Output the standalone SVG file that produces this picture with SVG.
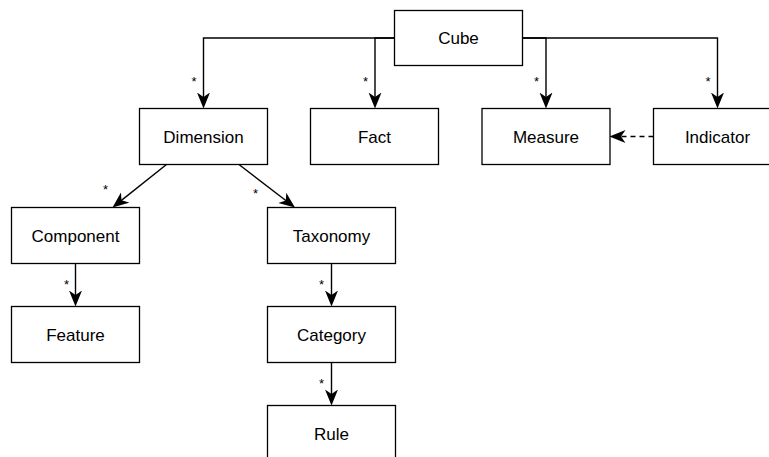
<svg xmlns="http://www.w3.org/2000/svg" width="769" height="457" viewBox="0 0 769 457">
  <style>
    .box { fill: #ffffff; stroke: #000000; stroke-width: 1.3; }
    .lbl { font-family: "Liberation Sans", Arial, sans-serif; font-size: 17px; fill: #000000; text-anchor: middle; }
    .edge { fill: none; stroke: #000000; stroke-width: 1.4; marker-end: url(#arr); }
    .dash { stroke-dasharray: 5 4; }
    .star { font-family: "Liberation Sans", Arial, sans-serif; font-size: 13px; fill: #000000; text-anchor: middle; }
  </style>
  <defs>
    <marker id="arr" viewBox="0 0 16 14" markerWidth="16" markerHeight="14" refX="11" refY="7" orient="auto" markerUnits="userSpaceOnUse">
      <path d="M0,0.5 L16,7 L0,13.5 L4.5,7 Z" fill="#000000" stroke="none"/>
    </marker>
  </defs>
  <rect width="769" height="457" fill="#ffffff"/>

  <g id="connectors">
    <path class="edge" d="M394.5,38 H203.5 V103.5"/>
    <path class="edge" d="M394.5,38 H375 V103.5"/>
    <path class="edge" d="M522.5,38 H546 V103.5"/>
    <path class="edge" d="M522.5,38 H717.5 V103.5"/>
    <path class="edge dash" d="M653.5,136.5 H614.5"/>
    <path class="edge" d="M166.5,164.5 L116.4,204.4"/>
    <path class="edge" d="M239,164.5 L291,204.5"/>
    <path class="edge" d="M75.5,263.5 V301.5"/>
    <path class="edge" d="M331.5,263.5 V301.5"/>
    <path class="edge" d="M331.5,362.5 V400.5"/>
    <text class="star" x="194" y="85.5">*</text>
    <text class="star" x="365.5" y="85.5">*</text>
    <text class="star" x="536.5" y="85.5">*</text>
    <text class="star" x="708" y="85.5">*</text>
    <text class="star" x="105.5" y="194">*</text>
    <text class="star" x="255.5" y="197.5">*</text>
    <text class="star" x="66.5" y="289">*</text>
    <text class="star" x="321.5" y="289">*</text>
    <text class="star" x="321.5" y="387.5">*</text>
  </g>

  <g id="cube"><rect class="box" x="394.5" y="10.5" width="128" height="55"/><text class="lbl" x="458.5" y="44">Cube</text></g>
  <g id="dimension"><rect class="box" x="139.5" y="108.5" width="128" height="56"/><text class="lbl" x="203.5" y="142.5">Dimension</text></g>
  <g id="fact"><rect class="box" x="310.5" y="108.5" width="128" height="56"/><text class="lbl" x="374.5" y="142.5">Fact</text></g>
  <g id="measure"><rect class="box" x="482" y="108.5" width="128" height="56"/><text class="lbl" x="546" y="142.5">Measure</text></g>
  <g id="indicator"><rect class="box" x="653.5" y="108.5" width="128" height="56"/><text class="lbl" x="717.5" y="142.5">Indicator</text></g>
  <g id="component"><rect class="box" x="11.5" y="207.5" width="128" height="56"/><text class="lbl" x="75.5" y="241.5">Component</text></g>
  <g id="taxonomy"><rect class="box" x="267.5" y="207.5" width="128" height="56"/><text class="lbl" x="331.5" y="241.5">Taxonomy</text></g>
  <g id="feature"><rect class="box" x="11.5" y="306.5" width="128" height="56"/><text class="lbl" x="75.5" y="340.5">Feature</text></g>
  <g id="category"><rect class="box" x="267.5" y="306.5" width="128" height="56"/><text class="lbl" x="331.5" y="340.5">Category</text></g>
  <g id="rule"><rect class="box" x="267.5" y="405.5" width="128" height="56"/><text class="lbl" x="331.5" y="439.5">Rule</text></g>
</svg>
